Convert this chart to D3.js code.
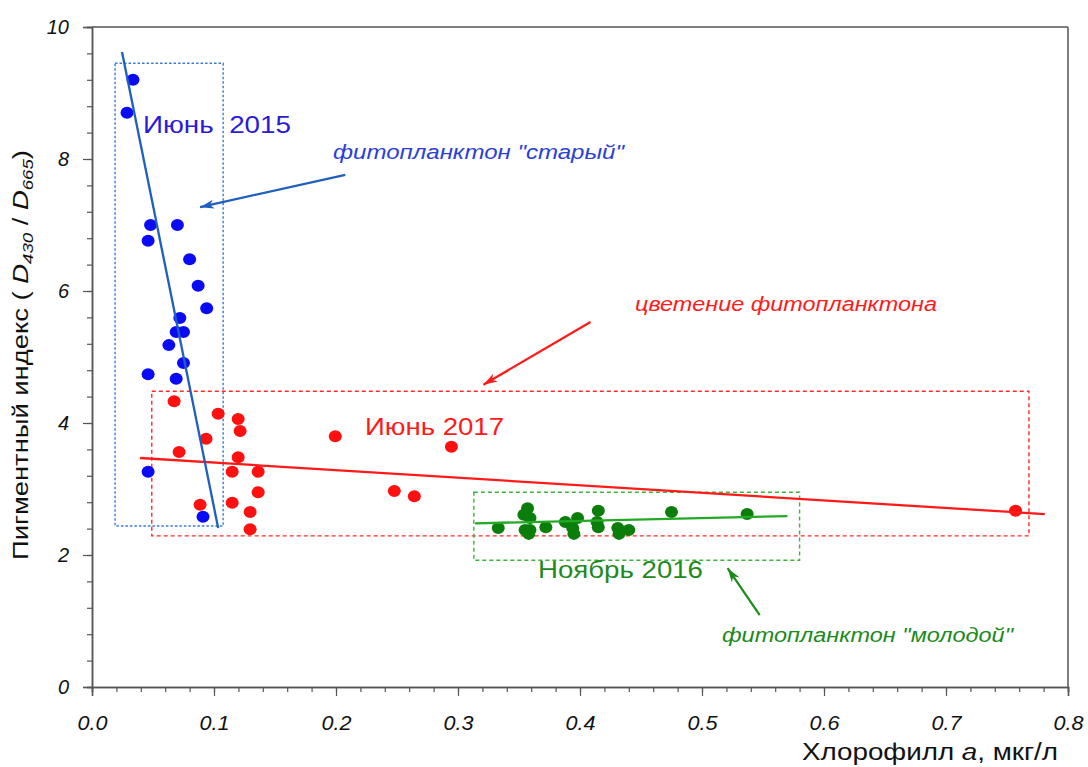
<!DOCTYPE html>
<html>
<head>
<meta charset="utf-8">
<script src="https://cdn.jsdelivr.net/npm/d3@7"></script>
<style>
  body { margin: 0; background: #fff; }
  text { font-family: "Liberation Sans", Arial, sans-serif; }
</style>
</head>
<body>
<div id="chart"></div>
<script>
// June 2015 (blue)
var blueX = [0.0336, 0.0287, 0.048, 0.070, 0.046, 0.080, 0.087, 0.094, 0.072, 0.069, 0.075, 0.063, 0.075, 0.046, 0.069, 0.046, 0.091];
var blueY = [9.20, 8.70, 7.00, 7.00, 6.76, 6.48, 6.08, 5.74, 5.59, 5.38, 5.38, 5.18, 4.91, 4.74, 4.67, 3.26, 2.58];
// June 2017 (red)
var redX = [0.0673, 0.1034, 0.1198, 0.1214, 0.0935, 0.0714, 0.1198, 0.1149, 0.1362, 0.1362, 0.1149, 0.0886, 0.1296, 0.1296, 0.1994, 0.2946, 0.2478, 0.2642, 0.757];
var redY = [4.33, 4.14, 4.06, 3.88, 3.76, 3.56, 3.48, 3.26, 3.26, 2.95, 2.79, 2.76, 2.65, 2.39, 3.80, 3.64, 2.97, 2.89, 2.67];
// November 2016 (green)
var greenX = [0.333, 0.357, 0.354, 0.359, 0.355, 0.359, 0.358, 0.372, 0.388, 0.398, 0.394, 0.395, 0.415, 0.414, 0.415, 0.431, 0.432, 0.440, 0.475, 0.537];
var greenY = [2.41, 2.71, 2.61, 2.56, 2.38, 2.38, 2.32, 2.42, 2.50, 2.56, 2.41, 2.32, 2.67, 2.50, 2.42, 2.41, 2.32, 2.38, 2.65, 2.62];

// trend lines (end points)
var blueFit = [[0.0246, 9.62], [0.1034, 2.41]];
var redFit = [[0.0394, 3.47], [0.781, 2.62]];
var greenFit = [[0.314, 2.48], [0.570, 2.59]];

// dashed group boxes [x0, x1, y0, y1]
var blueBox = [0.0189, 0.1075, 2.44, 9.45];
var redBox = [0.049, 0.768, 2.29, 4.48];
var greenBox = [0.313, 0.580, 1.92, 2.95];

// annotation arrows [tail, tip]
var blueArrow = [[0.2076, 7.76], [0.0886, 7.27]];
var redArrow = [[0.4086, 5.53], [0.3208, 4.58]];
var greenArrow = [[0.5473, 1.09], [0.521, 1.80]];

var xTicks = [0, 0.1, 0.2, 0.3, 0.4, 0.5, 0.6, 0.7, 0.8];
var yTicks = [0, 2, 4, 6, 8, 10];

var W = 1088, H = 767;
var svg = d3.select("#chart").append("svg")
    .attr("width", W)
    .attr("height", H);

var x = d3.scaleLinear().domain([0, 0.8]).range([92, 1068]);
var y = d3.scaleLinear().domain([0, 10]).range([687, 27]);

var axisColor = "#555";

// frame (top and right)
svg.append("line").attr("x1", x(0)).attr("x2", x(0.8)).attr("y1", y(10)).attr("y2", y(10))
    .attr("stroke", axisColor).attr("stroke-width", 1.5);
svg.append("line").attr("x1", x(0.8)).attr("x2", x(0.8)).attr("y1", y(10)).attr("y2", y(0))
    .attr("stroke", axisColor).attr("stroke-width", 1.5);

// minor ticks
var xMinor = svg.append("g")
    .attr("transform", "translate(0," + y(0) + ")")
    .call(d3.axisBottom(x).tickValues(d3.range(0, 41).map(function(i) { return i * 0.02; })).tickSize(5).tickFormat(""));
var yMinor = svg.append("g")
    .attr("transform", "translate(" + x(0) + ",0)")
    .call(d3.axisLeft(y).tickValues(d3.range(0, 26).map(function(i) { return i * 0.4; })).tickSize(5).tickFormat(""));

// major axes
var xAxis = svg.append("g")
    .attr("transform", "translate(0," + y(0) + ")")
    .call(d3.axisBottom(x).tickValues(xTicks).tickSize(9).tickPadding(20).tickFormat(d3.format(".1f")));
var yAxis = svg.append("g")
    .attr("transform", "translate(" + x(0) + ",0)")
    .call(d3.axisLeft(y).tickValues(yTicks).tickSize(9).tickPadding(14).tickFormat(d3.format("d")));

[xMinor, yMinor, xAxis, yAxis].forEach(function(g) {
  g.select(".domain").attr("stroke", axisColor).attr("stroke-width", 1.5);
  g.selectAll(".tick line").attr("stroke", axisColor).attr("stroke-width", 1.2);
});
[xAxis, yAxis].forEach(function(g) {
  g.selectAll(".tick text")
    .attr("fill", "#111")
    .style("font-family", "'Liberation Sans', Arial, sans-serif")
    .style("font-style", "italic")
    .style("font-size", "20px");
});
xAxis.selectAll(".tick text")
    .attr("textLength", 30)
    .attr("lengthAdjust", "spacingAndGlyphs");

// dashed boxes
function box(b, color, dash) {
  svg.append("rect")
    .attr("x", x(b[0])).attr("y", y(b[3]))
    .attr("width", x(b[1]) - x(b[0]))
    .attr("height", y(b[2]) - y(b[3]))
    .attr("fill", "none")
    .attr("stroke", color)
    .attr("stroke-width", 1.4)
    .attr("stroke-dasharray", dash);
}
box(blueBox, "#3a7ad6", "2.5,2");
box(redBox, "#ff2a2a", "4,3");
box(greenBox, "#3cb43c", "4,3");

// points
function dots(xs, ys, color) {
  svg.append("g").selectAll("ellipse")
    .data(xs.map(function(d, i) { return [d, ys[i]]; }))
    .enter()
    .append("ellipse")
      .attr("cx", function(d) { return x(d[0]); })
      .attr("cy", function(d) { return y(d[1]); })
      .attr("rx", 6.5)
      .attr("ry", 6)
      .attr("fill", color);
}
dots(redX, redY, "#ff1010");
dots(greenX, greenY, "#0a7d0a");
dots(blueX, blueY, "#0a0af5");

// trend lines
var line = d3.line().x(function(d) { return x(d[0]); }).y(function(d) { return y(d[1]); });
svg.append("path").attr("d", line(redFit)).attr("stroke", "#ff1a1a").attr("stroke-width", 2.3).attr("fill", "none");
svg.append("path").attr("d", line(greenFit)).attr("stroke", "#22aa22").attr("stroke-width", 2.3).attr("fill", "none");
svg.append("path").attr("d", line(blueFit)).attr("stroke", "#1f5fbf").attr("stroke-width", 2.3).attr("fill", "none");

// arrows
var defs = svg.append("defs");
function arrow(a, color, id) {
  defs.append("marker")
    .attr("id", id)
    .attr("viewBox", "0 0 14 9")
    .attr("refX", 14).attr("refY", 4.5)
    .attr("markerWidth", 14).attr("markerHeight", 9)
    .attr("markerUnits", "userSpaceOnUse")
    .attr("orient", "auto")
    .append("path")
      .attr("d", "M0,0 L14,4.5 L0,9 L4,4.5 Z")
      .attr("fill", color);
  svg.append("path")
    .attr("d", line(a))
    .attr("stroke", color)
    .attr("stroke-width", 2.2)
    .attr("fill", "none")
    .attr("marker-end", "url(#" + id + ")");
}
arrow(blueArrow, "#1f5fbf", "arrBlue");
arrow(redArrow, "#ff1a1a", "arrRed");
arrow(greenArrow, "#1a8c1a", "arrGreen");

// annotations
function label(txt, px, py, size, color, italic, len) {
  svg.append("text")
    .attr("x", px).attr("y", py)
    .attr("fill", color)
    .attr("xml:space", "preserve")
    .style("font-size", size + "px")
    .style("font-style", italic ? "italic" : "normal")
    .style("white-space", "pre")
    .attr("textLength", len)
    .attr("lengthAdjust", "spacingAndGlyphs")
    .text(txt);
}
label("Июнь  2015", 143, 133, 24, "#2b1ad8", false, 148);
label("фитопланктон \"старый\"", 333, 159, 20, "#2a3fd6", true, 291);
label("цветение фитопланктона", 635, 311, 20, "#ff1a1a", true, 302);
label("Июнь 2017", 365, 435, 24, "#ff1a1a", false, 139);
label("Ноябрь 2016", 538, 578, 24, "#1e8a1e", false, 165);
label("фитопланктон \"молодой\"", 722, 642, 20, "#1a8a1a", true, 291);

// axis titles
var xt = svg.append("text")
    .attr("x", 802).attr("y", 760)
    .attr("fill", "#111")
    .style("font-size", "23px")
    .attr("textLength", 256)
    .attr("lengthAdjust", "spacingAndGlyphs");
xt.append("tspan").text("Хлорофилл ");
xt.append("tspan").style("font-style", "italic").text("a");
xt.append("tspan").text(", мкг/л");

var yt = svg.append("text")
    .attr("transform", "translate(28,560) rotate(-90)")
    .attr("x", 0).attr("y", 0)
    .attr("fill", "#111")
    .style("font-size", "22px")
    .attr("textLength", 410)
    .attr("lengthAdjust", "spacingAndGlyphs");
yt.append("tspan").text("Пигментный индекс ( ");
yt.append("tspan").style("font-style", "italic").text("D");
yt.append("tspan").style("font-style", "italic").style("font-size", "15px").attr("dy", 5).text("430");
yt.append("tspan").attr("dy", -5).text(" / ");
yt.append("tspan").style("font-style", "italic").text("D");
yt.append("tspan").style("font-style", "italic").style("font-size", "15px").attr("dy", 5).text("665");
yt.append("tspan").attr("dy", -5).text(")");
</script>
</body>
</html>
